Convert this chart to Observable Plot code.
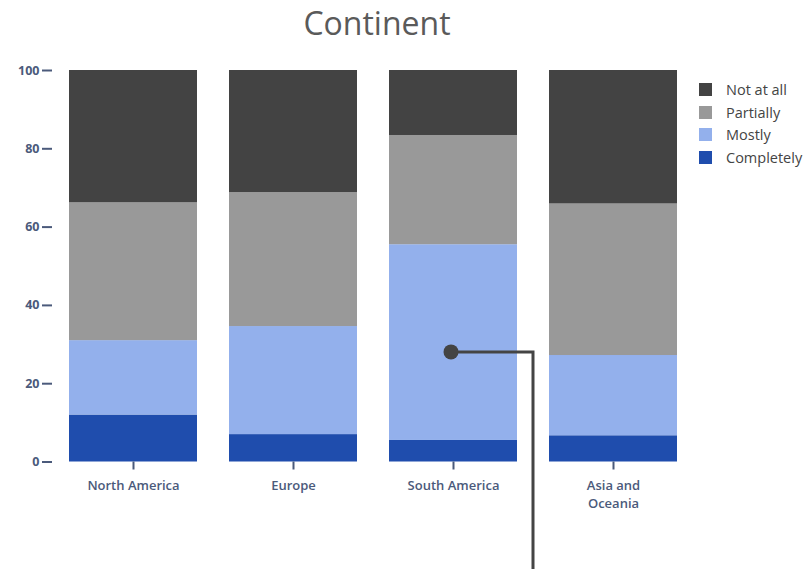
<!DOCTYPE html>
<html>
<head>
<meta charset="utf-8">
<script src="https://cdn.jsdelivr.net/npm/d3@7"></script>
<script src="https://cdn.jsdelivr.net/npm/@observablehq/plot@0.6"></script>
<style>
  body { margin: 0; background: #fff; font-family: "Open Sans", sans-serif; }
  #wrap { position: relative; width: 811px; height: 569px; overflow: hidden; }
  #title { position: absolute; top: 0; left: 227px; width: 300px; height: 45px;
           text-align: center; font-size: 32px; line-height: 45px; color: #5a5a5a; }
  #chart { position: absolute; top: 40px; left: 0; }
  #legend { position: absolute; left: 699px; top: 78px; }
  .item { display: flex; align-items: center; height: 22.7px; font-size: 14.5px; color: #444; }
  .sw { width: 13px; height: 13px; margin-right: 14px; }
</style>
</head>
<body>
<div id="wrap">
  <div id="title">Continent</div>
  <div id="chart"></div>
  <div id="legend"></div>
</div>
<script>
// Share of respondents by continent, per answer level (percent)
const categories = ["North America", "Europe", "South America", "Asia and Oceania"];
const categoryLabels = ["North America", "Europe", "South America", "Asia and\nOceania"];
const levels = ["Completely", "Mostly", "Partially", "Not at all"];
const levelColors = ["#1f4dad", "#93b0ec", "#999999", "#434343"];

const completely = [12, 7, 5.5, 6.7];
const mostly = [19, 27.6, 50, 20.5];
const partially = [35.2, 34.2, 27.9, 38.7];
const notAtAll = [33.8, 31.2, 16.6, 34.1];

const yTicks = [0, 20, 40, 60, 80, 100];

// Highlighted point with a callout line
const note = { category: "South America", value: 28 };

const series = [completely, mostly, partially, notAtAll];
const rows = [];
levels.forEach((level, i) => {
  categories.forEach((c, j) => rows.push({ continent: c, level, value: series[i][j] }));
});

const axisColor = "#4b5a7b";

function callout(index, scales, values, dims) {
  const x = scales.x, y = scales.y;
  const bw = x.bandwidth(), step = x.step();
  const x0 = x(note.category);
  const cx = x0 + bw / 2;
  const cy = y(note.value);
  const vx = x0 + bw + (step - bw) / 2;
  const g = d3.create("svg:g");
  g.append("path")
    .attr("d", `M${cx},${cy}H${vx}V${dims.height}`)
    .attr("fill", "none").attr("stroke", "#444").attr("stroke-width", 3);
  g.append("circle")
    .attr("cx", cx - 2).attr("cy", cy).attr("r", 7.5).attr("fill", "#444");
  return g.node();
}

const chart = Plot.plot({
  width: 811,
  height: 529,
  marginLeft: 52,
  marginRight: 118,
  marginTop: 30,
  marginBottom: 107.5,
  style: { fontFamily: "'Open Sans', sans-serif", background: "transparent" },
  x: { domain: categories, paddingInner: 0.2, paddingOuter: 0.1 },
  y: { domain: [0, 100] },
  color: { domain: levels, range: levelColors },
  marks: [
    Plot.barY(rows, {
      x: "continent", y: "value", fill: "level",
      order: levels, inset: 0
    }),
    Plot.axisY({
      ticks: yTicks, tickSize: 10, tickPadding: 3,
      stroke: axisColor, fill: axisColor, strokeWidth: 2,
      fontSize: 12.5, fontWeight: 700, label: null
    }),
    Plot.axisX({
      tickSize: 8, tickPadding: 7,
      tickFormat: d => categoryLabels[categories.indexOf(d)],
      stroke: axisColor, fill: axisColor, strokeWidth: 2,
      fontSize: 13, fontWeight: 600, label: null, lineHeight: 1.4
    }),
    callout
  ]
});
document.getElementById("chart").appendChild(chart);

// Legend, top level first
const legend = document.getElementById("legend");
levels.slice().reverse().forEach(level => {
  const item = document.createElement("div");
  item.className = "item";
  const sw = document.createElement("span");
  sw.className = "sw";
  sw.style.background = levelColors[levels.indexOf(level)];
  const label = document.createElement("span");
  label.textContent = level;
  item.appendChild(sw);
  item.appendChild(label);
  legend.appendChild(item);
});
</script>
</body>
</html>
